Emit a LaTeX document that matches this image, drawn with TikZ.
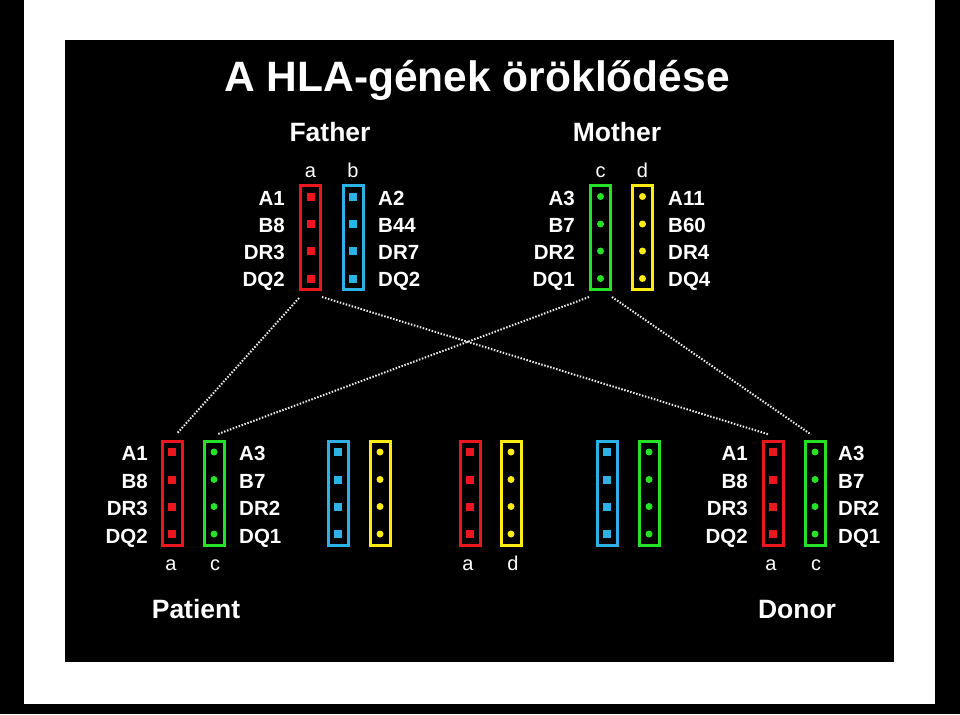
\documentclass[tikz,border=0pt]{standalone}
\usepackage{fontspec}
\setmainfont{Liberation Sans}
\usetikzlibrary{calc}

\definecolor{hlared}{RGB}{234,24,30}
\definecolor{hlablue}{RGB}{44,178,228}
\definecolor{hlagreen}{RGB}{38,226,38}
\definecolor{hlayellow}{RGB}{252,236,20}

\tikzset{
  chrom/.style={draw=#1, line width=3pt, minimum width=20pt, minimum height=104pt, inner sep=0pt},
  allele/.style={text=white, inner sep=0pt, font=\fontsize{20.5}{20.5}\selectfont\bfseries},
  letter/.style={text=white, inner sep=0pt, font=\fontsize{20}{20}\selectfont, anchor=base},
  parent/.style={text=white, inner sep=0pt, font=\fontsize{26.5}{26.5}\selectfont\bfseries, anchor=base},
  link/.style={white!92!black, line width=2pt, dash pattern=on 1.5pt off 1.6pt},
}

\newcommand{\sqmarks}[2]{\foreach \d in {-41,-13.5,13.5,41} \fill[#2] ($(#1)+(-4,\d-4)$) rectangle ++(8,8);}
\newcommand{\dotmarks}[2]{\foreach \d in {-41,-13.5,13.5,41} \fill[#2] ($(#1)+(0,\d)$) circle[radius=3.5pt];}

\begin{document}
\begin{tikzpicture}[x=1pt, y=-1pt]
        \useasboundingbox (0,0) rectangle (960,714);
        \fill[black] (0,0) rectangle (960,714);
        \fill[white] (24,0) rectangle (935,704);
        \fill[black] (65,40) rectangle (894,662);

        \node[text=white, inner sep=0pt, font=\fontsize{42.5}{42.5}\selectfont\bfseries, anchor=base] (title) at (477,92) {A HLA-gének öröklődése};
        \node[parent] (father) at (330,142) {Father};
        \node[parent] (mother) at (617,142) {Mother};
        \node[parent] (patient) at (196,618) {Patient};
        \node[parent] (donor) at (797,618) {Donor};

        \node[chrom=hlared] (fa) at (310.5,237.5) {};
        \node[chrom=hlablue] (fb) at (353,237.5) {};
        \node[chrom=hlagreen] (mc) at (600.5,237.5) {};
        \node[chrom=hlayellow] (md) at (642.5,237.5) {};
        \sqmarks{fa}{hlared}
        \sqmarks{fb}{hlablue}
        \dotmarks{mc}{hlagreen}
        \dotmarks{md}{hlayellow}

        \node[chrom=hlared] (pa) at (172,493) {};
        \node[chrom=hlagreen] (pc) at (214,493) {};
        \node[chrom=hlablue] (sb) at (338,493) {};
        \node[chrom=hlayellow] (sd) at (380,493) {};
        \node[chrom=hlared] (ta) at (470,493) {};
        \node[chrom=hlayellow] (td) at (511,493) {};
        \node[chrom=hlablue] (ub) at (607,493) {};
        \node[chrom=hlagreen] (uc) at (649,493) {};
        \node[chrom=hlared] (da) at (773,493) {};
        \node[chrom=hlagreen] (dc) at (815,493) {};
        \sqmarks{pa}{hlared}
        \dotmarks{pc}{hlagreen}
        \sqmarks{sb}{hlablue}
        \dotmarks{sd}{hlayellow}
        \sqmarks{ta}{hlared}
        \dotmarks{td}{hlayellow}
        \sqmarks{ub}{hlablue}
        \dotmarks{uc}{hlagreen}
        \sqmarks{da}{hlared}
        \dotmarks{dc}{hlagreen}

        \foreach \t [count=\i] in {A1,B8,DR3,DQ2} \node[allele, anchor=base east] at (285,178+27*\i) {\t};
        \foreach \t [count=\i] in {A2,B44,DR7,DQ2} \node[allele, anchor=base west] at (378,178+27*\i) {\t};
        \foreach \t [count=\i] in {A3,B7,DR2,DQ1} \node[allele, anchor=base east] at (575,178+27*\i) {\t};
        \foreach \t [count=\i] in {A11,B60,DR4,DQ4} \node[allele, anchor=base west] at (668,178+27*\i) {\t};
        \foreach \t [count=\i] in {A1,B8,DR3,DQ2} \node[allele, anchor=base east] at (148,433+27.5*\i) {\t};
        \foreach \t [count=\i] in {A3,B7,DR2,DQ1} \node[allele, anchor=base west] at (239,433+27.5*\i) {\t};
        \foreach \t [count=\i] in {A1,B8,DR3,DQ2} \node[allele, anchor=base east] at (748,433+27.5*\i) {\t};
        \foreach \t [count=\i] in {A3,B7,DR2,DQ1} \node[allele, anchor=base west] at (838,433+27.5*\i) {\t};

        \node[letter] at (310.5,178) {a};
        \node[letter] at (353,178) {b};
        \node[letter] at (600.5,178) {c};
        \node[letter] at (642.5,178) {d};
        \node[letter] at (171,570) {a};
        \node[letter] at (215,570) {c};
        \node[letter] at (468,570) {a};
        \node[letter] at (513,570) {d};
        \node[letter] at (771,570) {a};
        \node[letter] at (816,570) {c};

        \draw[link] ([yshift=-7pt]fa.south west) -- ([xshift=5pt, yshift=6pt]pa.north);
        \draw[link] ([yshift=-6pt]fa.south east) -- ([xshift=-4pt, yshift=5pt]da.north);
        \draw[link] ([yshift=-6pt]mc.south west) -- ([xshift=4pt, yshift=5.5pt]pc.north);
        \draw[link] ([yshift=-6pt]mc.south east) -- ([xshift=-4pt, yshift=5pt]dc.north);
    \end{tikzpicture}
\end{document}
